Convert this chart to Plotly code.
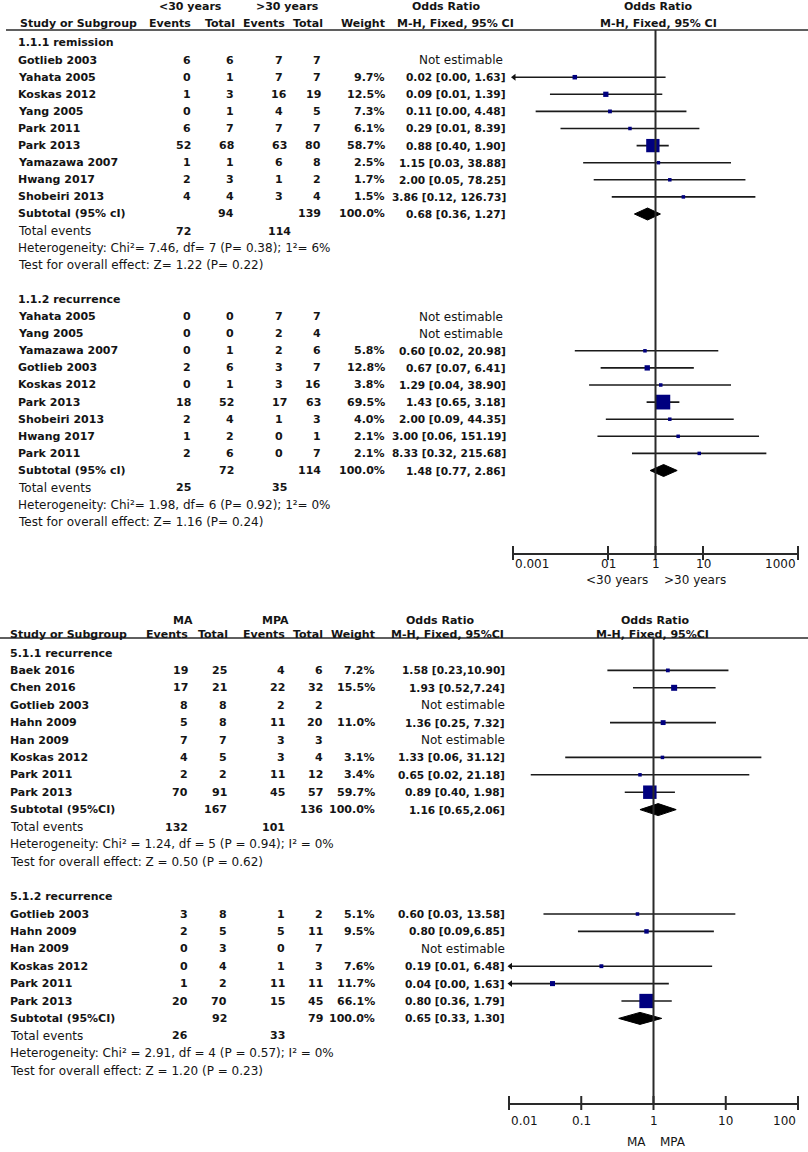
import math
import plotly.graph_objects as go

W, H = 808, 1152
FONT = "DejaVu Sans"
INK = "#141414"
LINE = "#2a2a2a"
BLUE = "#00007f"

# ================= Panel A (top): <30 years vs >30 years =================
a_arms = ["&lt;30 years", "&gt;30 years"]
a_ticks = [0.001, 0.1, 1, 10, 1000]
a_ticktext = ["0.001", "01", "1", "10", "1000"]
a_favours = ["&lt;30 years", "&gt;30 years"]
a_ci_header = "M-H, Fixed, 95% CI"

a1_title = "1.1.1 remission"
a1_study = ["Gotlieb 2003", "Yahata 2005", "Koskas 2012", "Yang 2005", "Park 2011",
            "Park 2013", "Yamazawa 2007", "Hwang 2017", "Shobeiri 2013"]
a1_e1 = [6, 0, 1, 0, 6, 52, 1, 2, 4]
a1_n1 = [6, 1, 3, 1, 7, 68, 1, 3, 4]
a1_e2 = [7, 7, 16, 4, 7, 63, 6, 1, 3]
a1_n2 = [7, 7, 19, 5, 7, 80, 8, 2, 4]
a1_w = [None, 9.7, 12.5, 7.3, 6.1, 58.7, 2.5, 1.7, 1.5]
a1_or = [None, 0.02, 0.09, 0.11, 0.29, 0.88, 1.15, 2.00, 3.86]
a1_lo = [None, 0.0004, 0.006, 0.003, 0.01, 0.40, 0.03, 0.05, 0.12]
a1_hi = [None, 1.63, 1.39, 4.48, 8.39, 1.90, 38.88, 78.25, 126.73]
a1_ci = [None, "0.02 [0.00, 1.63]", "0.09 [0.01, 1.39]", "0.11 [0.00, 4.48]",
         "0.29 [0.01, 8.39]", "0.88 [0.40, 1.90]", "1.15 [0.03, 38.88]",
         "2.00 [0.05, 78.25]", "3.86 [0.12, 126.73]"]
a1_sub_n = [94, 139]
a1_sub_est = [0.68, 0.36, 1.27]
a1_sub_ci = "0.68 [0.36, 1.27]"
a1_tot_events = [72, 114]
a1_het = "Heterogeneity: Chi²= 7.46, df= 7 (P= 0.38); 1²= 6%"
a1_test = "Test for overall effect: Z= 1.22 (P= 0.22)"

a2_title = "1.1.2 recurrence"
a2_study = ["Yahata 2005", "Yang 2005", "Yamazawa 2007", "Gotlieb 2003", "Koskas 2012",
            "Park 2013", "Shobeiri 2013", "Hwang 2017", "Park 2011"]
a2_e1 = [0, 0, 0, 2, 0, 18, 2, 1, 2]
a2_n1 = [0, 0, 1, 6, 1, 52, 4, 2, 6]
a2_e2 = [7, 2, 2, 3, 3, 17, 1, 0, 0]
a2_n2 = [7, 4, 6, 7, 16, 63, 3, 1, 7]
a2_w = [None, None, 5.8, 12.8, 3.8, 69.5, 4.0, 2.1, 2.1]
a2_or = [None, None, 0.60, 0.67, 1.29, 1.43, 2.00, 3.00, 8.33]
a2_lo = [None, None, 0.02, 0.07, 0.04, 0.65, 0.09, 0.06, 0.32]
a2_hi = [None, None, 20.98, 6.41, 38.90, 3.18, 44.35, 151.19, 215.68]
a2_ci = [None, None, "0.60 [0.02, 20.98]", "0.67 [0.07, 6.41]", "1.29 [0.04, 38.90]",
         "1.43 [0.65, 3.18]", "2.00 [0.09, 44.35]", "3.00 [0.06, 151.19]",
         "8.33 [0.32, 215.68]"]
a2_sub_n = [72, 114]
a2_sub_est = [1.48, 0.77, 2.86]
a2_sub_ci = "1.48 [0.77, 2.86]"
a2_tot_events = [25, 35]
a2_het = "Heterogeneity: Chi²= 1.98, df= 6 (P= 0.92); 1²= 0%"
a2_test = "Test for overall effect: Z= 1.16 (P= 0.24)"

# ================= Panel B (bottom): MA vs MPA =================
b_arms = ["MA", "MPA"]
b_ticks = [0.01, 0.1, 1, 10, 100]
b_ticktext = ["0.01", "0.1", "1", "10", "100"]
b_favours = ["MA", "MPA"]
b_ci_header = "M-H, Fixed, 95%CI"

b1_title = "5.1.1 recurrence"
b1_study = ["Baek 2016", "Chen 2016", "Gotlieb 2003", "Hahn 2009", "Han 2009",
            "Koskas 2012", "Park 2011", "Park 2013"]
b1_e1 = [19, 17, 8, 5, 7, 4, 2, 70]
b1_n1 = [25, 21, 8, 8, 7, 5, 2, 91]
b1_e2 = [4, 22, 2, 11, 3, 3, 11, 45]
b1_n2 = [6, 32, 2, 20, 3, 4, 12, 57]
b1_w = [7.2, 15.5, None, 11.0, None, 3.1, 3.4, 59.7]
b1_or = [1.58, 1.93, None, 1.36, None, 1.33, 0.65, 0.89]
b1_lo = [0.23, 0.52, None, 0.25, None, 0.06, 0.02, 0.40]
b1_hi = [10.90, 7.24, None, 7.32, None, 31.12, 21.18, 1.98]
b1_ci = ["1.58 [0.23,10.90]", "1.93 [0.52,7.24]", None, "1.36 [0.25, 7.32]", None,
         "1.33 [0.06, 31.12]", "0.65 [0.02, 21.18]", "0.89 [0.40, 1.98]"]
b1_sub_n = [167, 136]
b1_sub_est = [1.16, 0.65, 2.06]
b1_sub_ci = "1.16 [0.65,2.06]"
b1_tot_events = [132, 101]
b1_het = "Heterogeneity: Chi² = 1.24, df = 5 (P = 0.94); I² = 0%"
b1_test = "Test for overall effect: Z = 0.50 (P = 0.62)"

b2_title = "5.1.2 recurrence"
b2_study = ["Gotlieb 2003", "Hahn 2009", "Han 2009", "Koskas 2012", "Park 2011", "Park 2013"]
b2_e1 = [3, 2, 0, 0, 1, 20]
b2_n1 = [8, 5, 3, 4, 2, 70]
b2_e2 = [1, 5, 0, 1, 11, 15]
b2_n2 = [2, 11, 7, 3, 11, 45]
b2_w = [5.1, 9.5, None, 7.6, 11.7, 66.1]
b2_or = [0.60, 0.80, None, 0.19, 0.04, 0.80]
b2_lo = [0.03, 0.09, None, 0.006, 0.0005, 0.36]
b2_hi = [13.58, 6.85, None, 6.48, 1.63, 1.79]
b2_ci = ["0.60 [0.03, 13.58]", "0.80 [0.09,6.85]", None, "0.19 [0.01, 6.48]",
         "0.04 [0.00, 1.63]", "0.80 [0.36, 1.79]"]
b2_sub_n = [92, 79]
b2_sub_est = [0.65, 0.33, 1.30]
b2_sub_ci = "0.65 [0.33, 1.30]"
b2_tot_events = [26, 33]
b2_het = "Heterogeneity: Chi² = 2.91, df = 4 (P = 0.57); I² = 0%"
b2_test = "Test for overall effect: Z = 1.20 (P = 0.23)"


def group(title, study, e1, n1, e2, n2, w, orr, lo, hi, ci, sub_n, sub_est, sub_ci,
          tot, het, test):
    return dict(title=title, study=study, e1=e1, n1=n1, e2=e2, n2=n2, w=w, orr=orr,
                lo=lo, hi=hi, ci=ci, sub_n=sub_n, sub_est=sub_est, sub_ci=sub_ci,
                tot=tot, het=het, test=test)


panel_a = [group(a1_title, a1_study, a1_e1, a1_n1, a1_e2, a1_n2, a1_w, a1_or, a1_lo, a1_hi,
                 a1_ci, a1_sub_n, a1_sub_est, a1_sub_ci, a1_tot_events, a1_het, a1_test),
           group(a2_title, a2_study, a2_e1, a2_n1, a2_e2, a2_n2, a2_w, a2_or, a2_lo, a2_hi,
                 a2_ci, a2_sub_n, a2_sub_est, a2_sub_ci, a2_tot_events, a2_het, a2_test)]
panel_b = [group(b1_title, b1_study, b1_e1, b1_n1, b1_e2, b1_n2, b1_w, b1_or, b1_lo, b1_hi,
                 b1_ci, b1_sub_n, b1_sub_est, b1_sub_ci, b1_tot_events, b1_het, b1_test),
           group(b2_title, b2_study, b2_e1, b2_n1, b2_e2, b2_n2, b2_w, b2_or, b2_lo, b2_hi,
                 b2_ci, b2_sub_n, b2_sub_est, b2_sub_ci, b2_tot_events, b2_het, b2_test)]

# layout geometry (pixels)
geo_a = dict(y0=43, dy=17.1, study_x=16, e1=193, n1=236, e2=279, e2_anchor="center",
             n2=323, w=387, ci=508, ne=505, grp_y=7, hdr_y=23, line_y=30, line_x0=6,
             axis_y=553, tick_y=564, xr=(-3, 3), x0=513, x1=798, arm_x=(190, 287),
             or_l=(446, 456), or_r=(658, 658), fav_y=580, fav_x=(650, 662),
             hdr_e2=287, hdr_n2=325, xa="x", ya="y", sub_label="Subtotal (95% cI)")
geo_b = dict(y0=653, dy=17.4, study_x=8, e1=190, n1=229, e2=287, e2_anchor="right",
             n2=325, w=377, ci=507, ne=507, grp_y=620, hdr_y=634, line_y=638, line_x0=0,
             axis_y=1103, tick_y=1121, xr=(-2, 2), x0=509, x1=798, arm_x=(183, 275),
             or_l=(440, 447), or_r=(655, 652), fav_y=1142, fav_x=(648, 658),
             hdr_e2=287, hdr_n2=325, xa="x2", ya="y2", sub_label="Subtotal (95%CI)")

fig = go.Figure()
anns = []
shapes = []


def px(x):
    return x / W


def py(y):
    return 1 - y / H


def txt(s, x, y, anchor="left", bold=False, size=11):
    anns.append(dict(text=f"<b>{s}</b>" if bold else s, x=px(x), y=py(y), xref="paper",
                     yref="paper", xanchor=anchor, yanchor="middle", showarrow=False,
                     font=dict(family=FONT, size=size, color=INK)))


def msize(w):
    return max(3.5, 13.5 * (w / 60.0) ** 0.6)


def draw_panel(groups, g, arms, ticks, ticktext, favours, ci_header):
    txt(arms[0], g["arm_x"][0], g["grp_y"], "center", True)
    txt(arms[1], g["arm_x"][1], g["grp_y"], "center", True)
    txt("Study or Subgroup", g["study_x"] + (2 if g["study_x"] > 10 else 0), g["hdr_y"], "left", True)
    txt("Events", g["e1"], g["hdr_y"], "right", True)
    txt("Total", g["n1"] + 1, g["hdr_y"], "right", True)
    txt("Events", g["hdr_e2"], g["hdr_y"], "right", True)
    txt("Total", g["hdr_n2"], g["hdr_y"], "right", True)
    txt("Weight", g["w"], g["hdr_y"], "right", True)
    txt("Odds Ratio", g["or_l"][0], g["grp_y"], "center", True)
    txt(ci_header, g["or_l"][1], g["hdr_y"], "center", True)
    txt("Odds Ratio", g["or_r"][0], g["grp_y"], "center", True)
    txt(ci_header, g["or_r"][1], g["hdr_y"], "center", True)
    shapes.append(dict(type="line", xref="paper", yref="paper", x0=px(g["line_x0"]), x1=1,
                       y0=py(g["line_y"]), y1=py(g["line_y"]),
                       line=dict(color=LINE, width=1.6)))

    xmin = 10 ** g["xr"][0]
    mx, my, ms = [], [], []
    lx, ly = [], []
    ax_, ay_ = [], []
    dx, dy = [], []
    k = 0

    def ry(k):
        return g["y0"] + g["dy"] * k

    e2a = g["e2_anchor"]
    for grp in groups:
        txt(grp["title"], g["study_x"], ry(k), "left", True)
        k += 1
        for i, s in enumerate(grp["study"]):
            y = ry(k)
            txt(s, g["study_x"], y, "left", True)
            txt(str(grp["e1"][i]), g["e1"], y, "right", True)
            txt(str(grp["n1"][i]), g["n1"], y, "right", True)
            txt(str(grp["e2"][i]), g["e2"], y, e2a, True)
            txt(str(grp["n2"][i]), g["n2"], y, "right", True)
            if grp["orr"][i] is None:
                txt("Not estimable", g["ne"], y, "right", False, 12)
            else:
                txt(f"{grp['w'][i]:.1f}%", g["w"], y, "right", True)
                txt(grp["ci"][i], g["ci"], y, "right", True, 10.6)
                lo = grp["lo"][i]
                if lo < xmin:
                    lo = xmin * 1.05
                    ax_.append(lo)
                    ay_.append(y)
                lx += [lo, grp["hi"][i], None]
                ly += [y, y, None]
                mx.append(grp["orr"][i])
                my.append(y)
                ms.append(msize(grp["w"][i]))
            k += 1
        y = ry(k)
        txt(g["sub_label"], g["study_x"], y, "left", True)
        txt(str(grp["sub_n"][0]), g["n1"], y, "right", True)
        txt(str(grp["sub_n"][1]), g["n2"], y, "right", True)
        txt("100.0%", g["w"], y, "right", True)
        txt(grp["sub_ci"], g["ci"], y, "right", True, 10.6)
        est, slo, shi = grp["sub_est"]
        dx += [slo, est, shi, est, slo, None]
        dy += [y, y - 6, y, y + 6, y, None]
        k += 1
        y = ry(k)
        txt("Total events", g["study_x"], y, "left", False, 12)
        txt(str(grp["tot"][0]), g["e1"], y, "right", True)
        txt(str(grp["tot"][1]), g["e2"], y, e2a, True)
        k += 1
        txt(grp["het"], g["study_x"], ry(k), "left", False, 12)
        k += 1
        txt(grp["test"], g["study_x"], ry(k), "left", False, 12)
        k += 2

    xa, ya = g["xa"], g["ya"]
    shapes.append(dict(type="line", xref=xa, yref=ya, x0=1, x1=1, y0=g["line_y"],
                       y1=g["axis_y"], line=dict(color=LINE, width=2)))
    fig.add_trace(go.Scatter(x=lx, y=ly, mode="lines", xaxis=xa, yaxis=ya,
                             line=dict(color="#1a1a1a", width=1.6), hoverinfo="skip"))
    fig.add_trace(go.Scatter(x=ax_, y=ay_, mode="markers", xaxis=xa, yaxis=ya,
                             marker=dict(symbol="triangle-left", size=6, color="#111",
                                         opacity=1),
                             cliponaxis=False, hoverinfo="skip"))
    fig.add_trace(go.Scatter(x=mx, y=my, mode="markers", xaxis=xa, yaxis=ya,
                             marker=dict(symbol="square", size=ms, color=BLUE, opacity=1,
                                         line=dict(width=0)), hoverinfo="skip"))
    fig.add_trace(go.Scatter(x=dx, y=dy, mode="lines", fill="toself", xaxis=xa, yaxis=ya,
                             fillcolor="#000", line=dict(color="#000", width=1),
                             hoverinfo="skip"))
    fig.add_trace(go.Scatter(x=ticks, y=[g["axis_y"]] * len(ticks), mode="markers",
                             xaxis=xa, yaxis=ya, cliponaxis=False,
                             marker=dict(symbol="line-ns", size=10,
                                         line=dict(color=LINE, width=2)),
                             hoverinfo="skip"))
    for j, (t, lab) in enumerate(zip(ticks, ticktext)):
        anc = "left" if j == 0 else ("right" if j == len(ticks) - 1 else "center")
        anns.append(dict(text=lab, x=math.log10(t), xref=xa, y=py(g["tick_y"]),
                         yref="paper", xanchor=anc, yanchor="middle", showarrow=False,
                         font=dict(family=FONT, size=12, color=INK)))
    txt(favours[0], g["fav_x"][0], g["fav_y"], "right", False, 12)
    txt(favours[1], g["fav_x"][1], g["fav_y"], "left", False, 12)

    axis_common = dict(type="log", range=list(g["xr"]), showline=True, linecolor=LINE,
                       linewidth=2, ticks="", showticklabels=False, showgrid=False,
                       zeroline=False, fixedrange=True, automargin=False,
                       domain=[px(g["x0"]), px(g["x1"])])
    yaxis = dict(visible=False, range=[g["axis_y"], g["line_y"]], fixedrange=True,
                 automargin=False, domain=[py(g["axis_y"]), py(g["line_y"])])
    return axis_common, yaxis


xa_a, ya_a = draw_panel(panel_a, geo_a, a_arms, a_ticks, a_ticktext, a_favours, a_ci_header)
xa_b, ya_b = draw_panel(panel_b, geo_b, b_arms, b_ticks, b_ticktext, b_favours, b_ci_header)

fig.update_layout(
    width=W, height=H, margin=dict(l=0, r=0, t=0, b=0, pad=0, autoexpand=False),
    paper_bgcolor="white", plot_bgcolor="white", showlegend=False,
    xaxis=dict(**xa_a, anchor="y"), yaxis=dict(**ya_a, anchor="x"),
    xaxis2=dict(**xa_b, anchor="y2"), yaxis2=dict(**ya_b, anchor="x2"),
    annotations=anns, shapes=shapes,
)

fig.write_html("out.html", config={"displayModeBar": False},
               post_script="document.body.style.margin='0';document.body.style.overflow='hidden';")
